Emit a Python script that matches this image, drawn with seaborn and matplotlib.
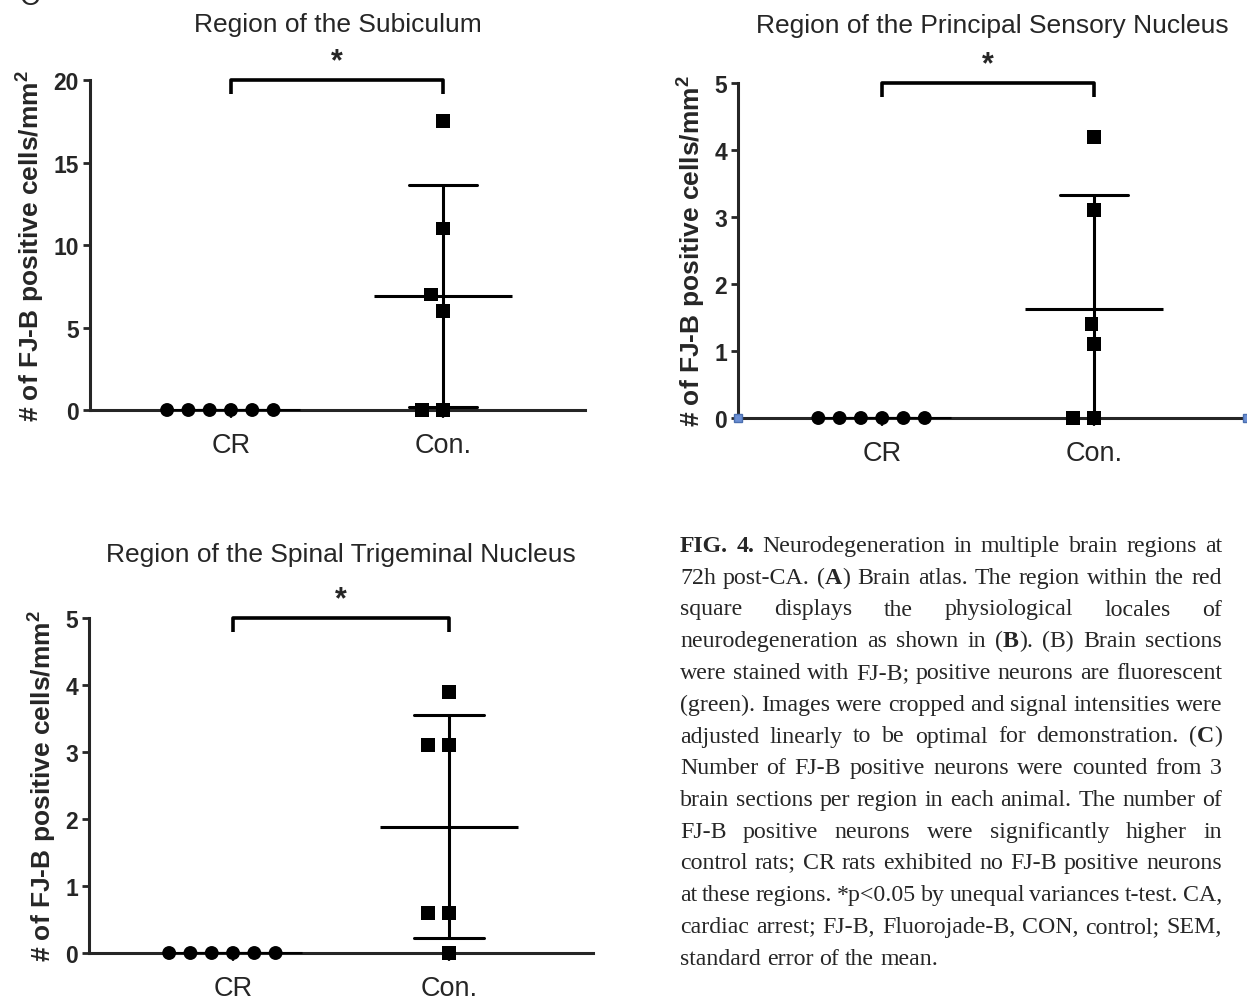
import numpy as np
import pandas as pd
import matplotlib
matplotlib.use("Agg")
import matplotlib.pyplot as plt
import seaborn as sns

# FJ-B positive cells/mm2, six rats per group
groups = ["CR", "Con."]
titles = ["Region of the Subiculum",
          "Region of the Principal Sensory Nucleus",
          "Region of the Spinal Trigeminal Nucleus"]

sub_cr = [0, 0, 0, 0, 0, 0]
sub_con = [17.5, 11, 7, 6, 0, 0]
psn_cr = [0, 0, 0, 0, 0, 0]
psn_con = [4.2, 3.1, 1.4, 1.1, 0, 0]
stn_cr = [0, 0, 0, 0, 0, 0]
stn_con = [3.9, 3.1, 3.1, 0.6, 0.6, 0]

y_max = [20, 5, 5]
y_step = [5, 1, 1]

caption_lines = [
    "**FIG.** **4.** Neurodegeneration in multiple brain regions at",
    "72h post-CA. (**A**) Brain atlas. The region within the red",
    "square displays the physiological locales of",
    "neurodegeneration as shown in (**B**).  (B) Brain sections",
    "were stained with FJ-B; positive neurons are fluorescent",
    "(green). Images were cropped and signal intensities were",
    "adjusted linearly to be optimal for demonstration. (**C**)",
    "Number of FJ-B positive neurons were counted from 3",
    "brain sections per region in each animal. The number of",
    "FJ-B positive neurons were significantly higher in",
    "control rats; CR rats exhibited no FJ-B positive neurons",
    "at these regions. *p<0.05 by unequal variances t-test. CA,",
    "cardiac arrest; FJ-B, Fluorojade-B, CON, control; SEM,",
    "standard error of the mean.",
]

sns.set_style("ticks")
plt.rcParams["font.family"] = ["Liberation Sans", "DejaVu Sans"]
plt.rcParams["mathtext.fontset"] = "custom"
plt.rcParams["mathtext.rm"] = "Liberation Sans"
plt.rcParams["mathtext.bf"] = "Liberation Sans:bold"

W, H = 1247, 1004
fig = plt.figure(figsize=(W / 100, H / 100), dpi=100)


def px_axes(left, top, right, bottom):
    return fig.add_axes([left / W, 1 - bottom / H, (right - left) / W, (bottom - top) / H])


ax_a = px_axes(90, 81, 585, 411)
ax_b = px_axes(738, 84, 1247, 419)
ax_c = px_axes(89, 619, 593, 954)


def draw_panel(ax, cr, con, title, ymax, step, xlim, title_pad):
    df = pd.DataFrame({"group": ["CR"] * len(cr) + ["Con."] * len(con),
                       "value": cr + con})
    sns.swarmplot(data=df[df.group == "CR"], x="group", y="value", order=groups,
                  marker="o", color="black", size=10, edgecolor="none",
                  linewidth=4.6, ax=ax, zorder=4)
    sns.swarmplot(data=df[df.group == "Con."], x="group", y="value", order=groups,
                  marker="s", color="black", size=10, edgecolor="none",
                  linewidth=4.6, ax=ax, zorder=4)
    for coll in ax.collections:
        if len(coll.get_offsets()):
            coll.set_clip_on(False)
    sns.pointplot(data=df, x="group", y="value", order=groups, errorbar="sd",
                  markers="_", linestyles="none", color="black", capsize=0.32,
                  markersize=100, markeredgewidth=2.2,
                  err_kws={"linewidth": 2.2}, ax=ax, zorder=3)

    ax.set_xlim(*xlim)
    ax.set_ylim(0, ymax)
    ax.set_yticks(np.arange(0, ymax + step / 2, step))
    ax.set_xlabel("")
    ax.set_ylabel("# of FJ-B positive cells/mm$^\\mathbf{2}$", fontsize=19,
                  fontweight="bold", labelpad=5)
    ax.set_title(title, fontsize=19, pad=title_pad)
    sns.despine(ax=ax)
    for side in ["left", "bottom"]:
        ax.spines[side].set_linewidth(2.2)
    ax.tick_params(axis="y", length=5, width=2, pad=3, labelsize=16.5)
    ax.tick_params(axis="x", length=6, width=1.6, pad=10, labelsize=19.5)
    for lab in ax.get_yticklabels():
        lab.set_fontweight("bold")

    # significance bracket between the two groups
    top = ymax * 1.0
    drop = ymax * 0.042
    ax.plot([0, 0, 1, 1], [top - drop, top, top, top - drop], color="black",
            lw=2.6, clip_on=False, solid_capstyle="butt")
    ax.text(0.5, top + ymax * 0.012, "*", ha="center", va="bottom",
            fontsize=22, fontweight="bold")


draw_panel(ax_a, sub_cr, sub_con, titles[0], y_max[0], y_step[0], (-0.665, 1.67), 35)
draw_panel(ax_b, psn_cr, psn_con, titles[1], y_max[1], y_step[1], (-0.68, 1.72), 37)
draw_panel(ax_c, stn_cr, stn_con, titles[2], y_max[2], y_step[2], (-0.667, 1.667), 41)

# little blue handles left on the middle panel's axis line
ax_b.plot([0, 1], [0, 0], transform=ax_b.transAxes, ls="none", marker="s",
          ms=6, color="#6b8fd4", markeredgecolor="#4a6fb0", clip_on=False, zorder=5)

# cut-off panel letter at the top-left corner
fig.text(20 / W, 1 - 5 / H, "C", fontsize=20, va="baseline")


# justified caption, drawn word by word
def draw_caption(lines, x0, x1, y_first, dy, size):
    r = fig.canvas.get_renderer()
    t = fig.text(0, 0, "a a", fontsize=size, family="Liberation Serif")
    t2 = fig.text(0, 0, "aa", fontsize=size, family="Liberation Serif")
    space = t.get_window_extent(r).width - t2.get_window_extent(r).width
    t.remove()
    t2.remove()
    for i, line in enumerate(lines):
        pieces = []
        for word in line.split():
            runs = [(s, k % 2 == 1) for k, s in enumerate(word.split("**")) if s]
            widths = []
            for s, b in runs:
                tm = fig.text(0, 0, s, fontsize=size, family="Liberation Serif",
                              fontweight="bold" if b else "normal")
                widths.append(tm.get_window_extent(r).width)
                tm.remove()
            pieces.append((runs, widths))
        total = sum(sum(ws) for _, ws in pieces)
        if i == len(lines) - 1:
            gap = space
        else:
            gap = max((x1 - x0 - total) / (len(pieces) - 1), 0.55 * space)
        x = x0
        y = y_first + i * dy
        for runs, ws in pieces:
            for (s, b), w in zip(runs, ws):
                fig.text(x / W, 1 - y / H, s, fontsize=size, family="Liberation Serif",
                         fontweight="bold" if b else "normal", va="baseline")
                x += w
            x += gap


draw_caption(caption_lines, 680, 1222, 552, 31.75, 17.2)

fig.savefig("out.png", dpi=100)
